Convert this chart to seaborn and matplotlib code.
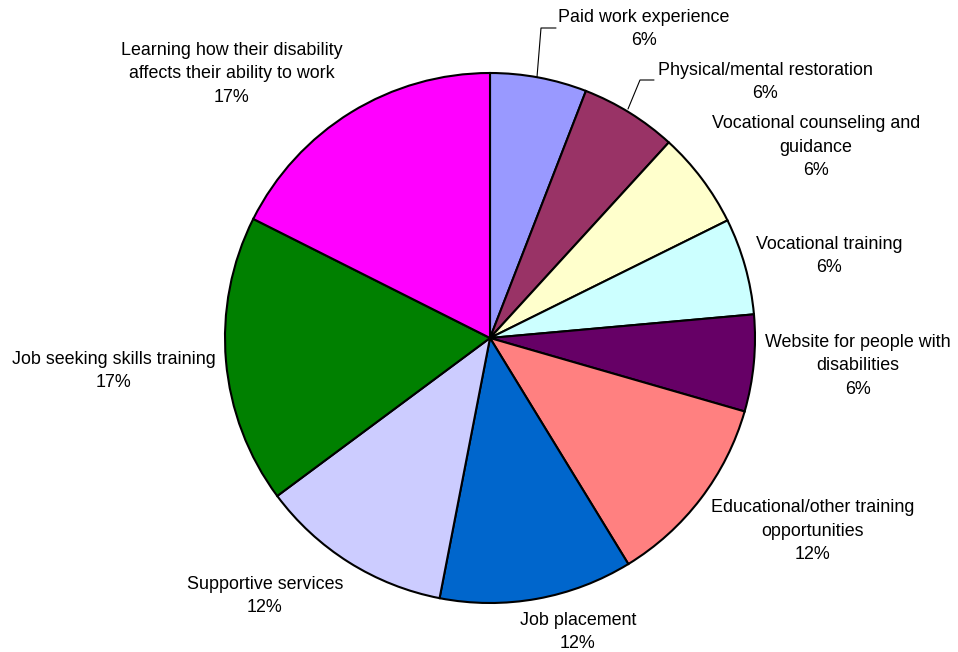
import matplotlib
matplotlib.use("Agg")
import matplotlib.pyplot as plt
import seaborn as sns

sns.set_theme(style="white")
plt.rcParams['font.family'] = ['Liberation Sans', 'DejaVu Sans']

categories = [
    "Paid work experience",
    "Physical/mental restoration",
    "Vocational counseling and\nguidance",
    "Vocational training",
    "Website for people with\ndisabilities",
    "Educational/other training\nopportunities",
    "Job placement",
    "Supportive services",
    "Job seeking skills training",
    "Learning how their disability\naffects their ability to work",
]
shares = [5.9, 5.9, 5.9, 5.9, 5.9, 11.8, 11.8, 11.8, 17.6, 17.6]
pct_labels = ["6%", "6%", "6%", "6%", "6%", "12%", "12%", "12%", "17%", "17%"]
colors = ["#9999FF", "#993366", "#FFFFCC", "#CCFFFF", "#660066",
          "#FF8080", "#0066CC", "#CCCCFF", "#008000", "#FF00FF"]

# label block centres (pixel layout)
label_pos = [(644, 29), (765, 82), (816, 147), (829, 256), (858, 366),
             (813, 531), (578, 632), (265, 596), (114, 371), (232, 74)]

W, H = 958, 652
fig = plt.figure(figsize=(W / 100, H / 100), dpi=100)
ax = fig.add_axes([0, 0, 1, 1])
cx, cy, r = 490, H - 338, 265
ax.pie(shares, colors=colors, startangle=90, counterclock=False,
       center=(cx, cy), radius=r,
       wedgeprops=dict(edgecolor="black", linewidth=1.5))
ax.set_xlim(0, W)
ax.set_ylim(0, H)
ax.set_aspect("equal")
ax.axis("off")

for cat, pct, (x, y) in zip(categories, pct_labels, label_pos):
    ax.text(x, H - y, f"{cat}\n{pct}", ha="center", va="center",
            multialignment="center", fontsize=12.9, linespacing=1.47,
            color="black")

# leader lines
ax.plot([537, 541, 556], [H - 77, H - 28, H - 28], color="black", lw=0.8)
ax.plot([628, 640, 654], [H - 109, H - 80, H - 80], color="black", lw=0.8)

fig.savefig("out.png", dpi=100, facecolor="white")
